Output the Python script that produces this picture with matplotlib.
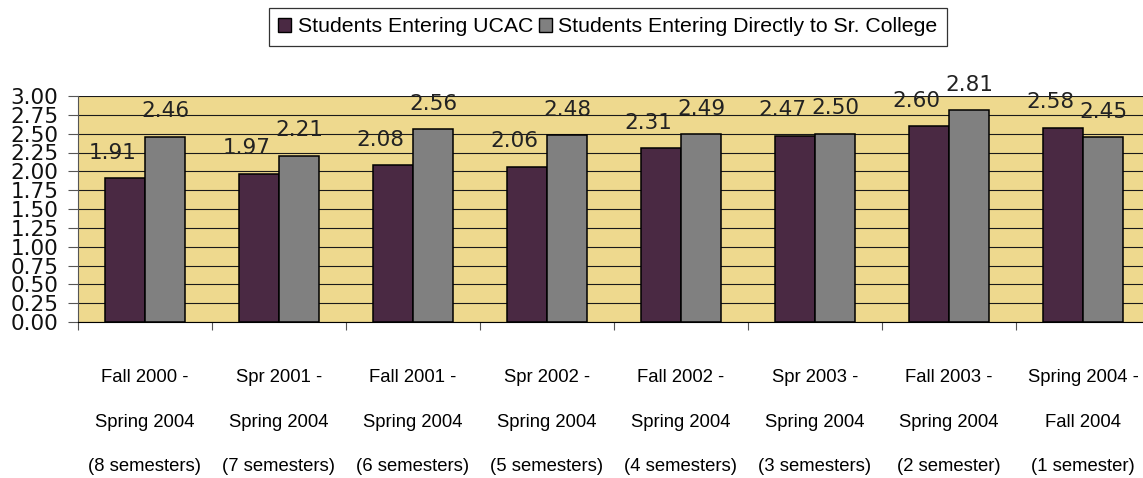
import numpy as np
import matplotlib
matplotlib.use('Agg')
import matplotlib.pyplot as plt
from matplotlib.patches import Patch

# cohort labels, one entry per group of bars (three text lines each)
line1 = ['Fall 2000 -', 'Spr 2001 -', 'Fall 2001 -', 'Spr 2002 -',
         'Fall 2002 -', 'Spr 2003 -', 'Fall 2003 -', 'Spring 2004 -']
line2 = ['Spring 2004', 'Spring 2004', 'Spring 2004', 'Spring 2004',
         'Spring 2004', 'Spring 2004', 'Spring 2004', 'Fall 2004']
line3 = ['(8 semesters)', '(7 semesters)', '(6 semesters)', '(5 semesters)',
         '(4 semesters)', '(3 semesters)', '(2 semester)', '(1 semester)']

# mean GPA
ucac = [1.91, 1.97, 2.08, 2.06, 2.31, 2.47, 2.60, 2.58]
direct = [2.46, 2.21, 2.56, 2.48, 2.49, 2.50, 2.81, 2.45]

series_names = ['Students Entering UCAC', 'Students Entering Directly to Sr. College']
purple = '#4A2943'
grey = '#808080'
tan = '#EED98E'

fig = plt.figure(figsize=(11.43, 4.78), dpi=100)
ax = fig.add_axes([78/1143, 156/478, 1072/1143, 226/478])
ax.set_facecolor(tan)

x = np.arange(len(ucac))
w = 0.3
b1 = ax.bar(x - w/2, ucac, w, color=purple, edgecolor='black', linewidth=1.1, zorder=3)
b2 = ax.bar(x + w/2, direct, w, color=grey, edgecolor='black', linewidth=1.1, zorder=3)

ax.set_xlim(-0.5, len(ucac) - 0.5)
ax.set_ylim(0, 3)
ax.set_yticks(np.arange(0, 3.01, 0.25))
ax.set_yticklabels(['%.2f' % v for v in np.arange(0, 3.01, 0.25)],
                   fontsize=15.5, family='DejaVu Sans', color='#111111')
ax.yaxis.grid(True, color='#1a1a1a', linewidth=0.8, zorder=1)
ax.set_axisbelow(True)
ax.tick_params(axis='y', length=7, width=0.8, color='#555555', pad=7)

# tick marks between the groups, labels placed by hand below
ax.set_xticks([])
ax.set_xticks(np.arange(-0.5, len(ucac)), minor=True)
ax.tick_params(axis='x', which='minor', length=6, width=0.8, color='#555555')

for s in ['top', 'right']:
    ax.spines[s].set_visible(False)
ax.spines['left'].set_color('#555555')
ax.spines['bottom'].set_color('black')

# value labels
for rect, v in zip(b1, ucac):
    ax.annotate('%.2f' % v, (rect.get_x() + rect.get_width()/2, v),
                xytext=(-9, 14), textcoords='offset points', ha='center',
                va='baseline', fontsize=15.5, color='#222222', zorder=5)
for rect, v in zip(b2, direct):
    ax.annotate('%.2f' % v, (rect.get_x() + rect.get_width()/2, v),
                xytext=(0, 14), textcoords='offset points', ha='center',
                va='baseline', fontsize=15.5, color='#222222', zorder=5)

# three-line category labels
for i in range(len(ucac)):
    for txt, off in zip([line1[i], line2[i], line3[i]], [-40, -72.5, -104]):
        ax.annotate(txt, (i, 0), xycoords=('data', 'axes fraction'),
                    xytext=(0, off), textcoords='offset points',
                    ha='center', va='center', fontsize=13.3,
                    family='Liberation Sans', color='black',
                    annotation_clip=False)

handles = [Patch(facecolor=purple, edgecolor='black', linewidth=1),
           Patch(facecolor=grey, edgecolor='black', linewidth=1)]
leg = fig.legend(handles, series_names, loc='center', ncol=2,
                 bbox_to_anchor=(608/1143, 1 - 27/478),
                 prop={'family': 'Liberation Sans', 'size': 15.3},
                 frameon=True, fancybox=False, edgecolor='black',
                 handlelength=0.6, handleheight=0.6, handletextpad=0.3,
                 columnspacing=0.3, borderpad=0.45, borderaxespad=0)
leg.get_frame().set_linewidth(0.9)

fig.savefig('out.png', dpi=100)
